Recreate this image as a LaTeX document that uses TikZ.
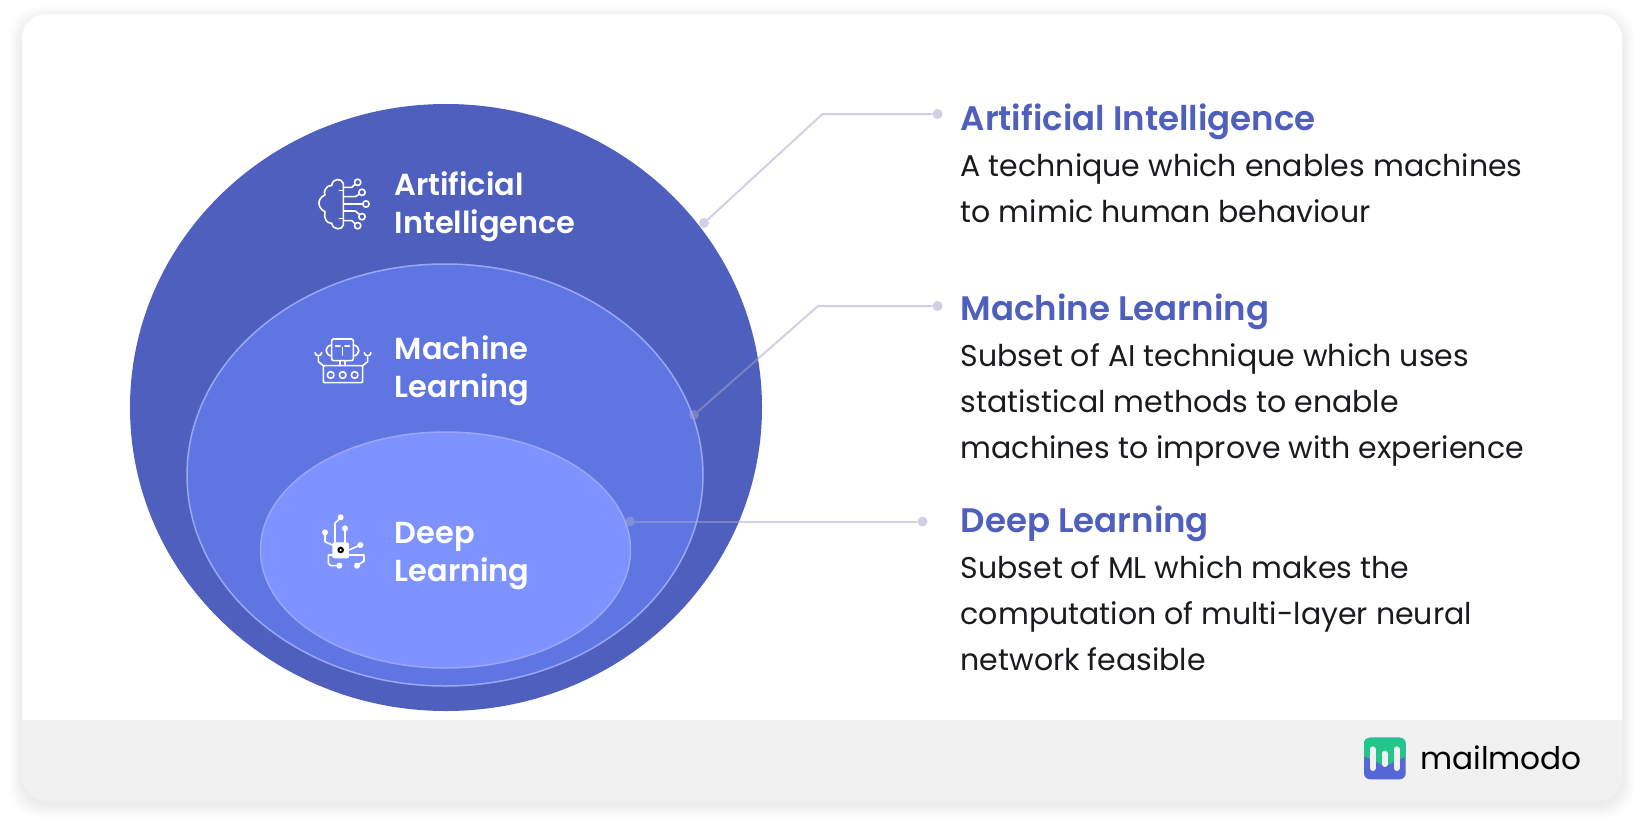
\documentclass[tikz,border=0pt]{standalone}
\usepackage{fontspec}
\setmainfont{Poppins}
\newfontfamily\semifont{Poppins SemiBold}
\definecolor{aiblue}{HTML}{4F5FBD}
\definecolor{mlblue}{HTML}{5F75E2}
\definecolor{dlblue}{HTML}{7E93FF}
\definecolor{ringblue}{HTML}{98A8F5}
\definecolor{linegray}{HTML}{A3A5CA}
\definecolor{bandgray}{HTML}{F1F1F2}
\definecolor{inkblack}{HTML}{1B1B1F}
\definecolor{logogreen}{HTML}{22C58C}
\definecolor{logoblue}{HTML}{5566D6}
\usetikzlibrary{shapes.geometric}
\tikzset{
  blob/.style={draw=none, ellipse, inner sep=0pt},
  circlelabel/.style={text=white, anchor=base west, align=left, font=\semifont\fontsize{30.4}{38}\selectfont, inner sep=0pt},
  headlabel/.style={text=aiblue, anchor=base west, inner sep=0pt, font=\semifont\fontsize{34}{40}\selectfont},
  bodylabel/.style={text=inkblack, anchor=base west, align=left, inner sep=0pt, font=\fontsize{30}{46}\selectfont},
  pindot/.style={circle, fill=linegray, fill opacity=0.5, inner sep=0pt, minimum size=10pt},
  leader/.style={draw=linegray, draw opacity=0.5, line width=2pt},
  iconline/.style={draw=white, line width=1.6pt, line cap=round, line join=round}
}
\begin{document}
\begin{tikzpicture}[x=1pt, y=-1pt]
  \useasboundingbox (0,0) rectangle (1644,830);
  \fill[white] (0,0) rectangle (1644,830);
  % soft shadow round the card
  \foreach \g in {12,10,...,2}
    \fill[black, opacity=0.010, rounded corners=30pt] (22-\g,19-\g) rectangle (1622+\g,805+\g);
  \fill[white, rounded corners=24pt] (22,14) rectangle (1622,800);
  \begin{scope}
    \clip[rounded corners=24pt] (22,14) rectangle (1622,800);
    \fill[bandgray] (22,720) rectangle (1622,800);
  \end{scope}

  % circles
  \node (aiblob) [blob, fill=aiblue, minimum width=632pt, minimum height=607pt] at (446,407.5) {};
  \node (mlblob) [blob, fill=mlblue, draw=ringblue, line width=1.5pt, minimum width=516pt, minimum height=422pt] at (445,475) {};
  \node (dlblob) [blob, fill=dlblue, draw=ringblue, line width=1.5pt, minimum width=370pt, minimum height=236pt] at (445.5,550) {};

  \node (aitext) [circlelabel] at (394.5,233) {Artificial\\Intelligence};
  \node (mltext) [circlelabel] at (394.5,397) {Machine\\Learning};
  \node (dltext) [circlelabel] at (394.5,581) {Deep\\Learning};

  % right side texts
  \node (aihead) [headlabel] at (960.5,130) {Artificial Intelligence};
  \node (aibody) [bodylabel] at (960.5,222) {A technique which enables machines\\to mimic human behaviour};
  \node (mlhead) [headlabel] at (960.5,320) {Machine Learning};
  \node (mlbody) [bodylabel] at (960.5,458) {Subset of AI technique which uses\\statistical methods to enable\\machines to improve with experience};
  \node (dlhead) [headlabel] at (960.5,532.5) {Deep Learning};
  \node (dlbody) [bodylabel] at (960.5,670) {Subset of ML which makes the\\computation of multi-layer neural\\network feasible};

  % leaders
  \node (aipin) [pindot] at (704,223) {};
  \node (aiend) [pindot] at (937.5,114) {};
  \coordinate (aibend) at (822.5,114);
  \draw[leader] (aipin) -- (aibend) -- (aiend);
  \node (mlpin) [pindot] at (694,415) {};
  \node (mlend) [pindot] at (937.5,306) {};
  \coordinate (mlbend) at (818,306);
  \draw[leader] (mlpin) -- (mlbend) -- (mlend);
  \node (dlpin) [pindot] at (630,521.5) {};
  \node (dlend) [pindot] at (922.5,521.5) {};
  \draw[leader] (dlpin) -- (dlend);

  % brain icon
  \begin{scope}[shift={(290,150)}, x=0.3333pt, y=-0.3333pt, iconline]
    \draw (160,100) .. controls (155,85) and (128,82) .. (125,107) .. controls (105,105) and (100,130) .. (105,135) .. controls (80,145) and (82,175) .. (105,185) .. controls (100,205) and (110,220) .. (125,220) .. controls (130,242) and (158,240) .. (160,225) -- cycle;
    \draw (148,122) -- (160,122) (148,205) -- (160,205);
    \draw (160,112) -- (186,112) -- (196,102) (160,140) -- (196,140) -- (208,132) (160,162) -- (218,162) (160,183) -- (196,183) -- (208,193) (160,212) -- (186,212) -- (196,222);
    \draw (203,97) circle (9.5) (216,127) circle (9.5) (228,162) circle (9.5) (216,200) circle (9.5) (203,227) circle (9.5);
  \end{scope}

  % robot icon
  \begin{scope}[shift={(290,320)}, x=0.3333pt, y=-0.3333pt, iconline]
    \draw[rounded corners=2pt] (125,57) rectangle (190,122);
    \draw (125,75) .. controls (103,78) and (103,105) .. (125,108) (190,75) .. controls (212,78) and (212,105) .. (190,108);
    \draw (137,78) -- (150,78) (165,78) -- (178,78) (157,82) -- (157,105);
    \draw (150,122) -- (150,137) (165,122) -- (165,137);
    \draw[rounded corners=1pt] (100,137) rectangle (218,188);
    \draw (122,165) circle (10) (158,165) circle (10) (194,165) circle (10);
    \draw (100,137) -- (85,125) -- (85,112) (75,98) .. controls (75,110) and (95,110) .. (95,98);
    \draw (218,137) -- (233,125) -- (233,112) (223,98) .. controls (223,110) and (243,110) .. (243,98);
  \end{scope}

  % deep learning icon
  \begin{scope}[shift={(300,500)}, x=0.3333pt, y=-0.3333pt, iconline]
    \fill[white, rounded corners=2pt] (97,127) rectangle (147,175);
    \fill[black] (122,150) circle (10);
    \fill[white] (122,150) circle (3.5);
    \draw (105,127) -- (105,70) -- (122,52) (135,85) -- (135,127) (75,97) -- (75,125) -- (97,135) (181,135) -- (147,150);
    \draw (97,165) -- (85,165) -- (85,190) -- (92,197) -- (118,197) (147,165) -- (192,165) -- (192,183) -- (171,197);
    \fill[white] (122,52) circle (9) (135,85) circle (9) (75,97) circle (9) (181,135) circle (9) (118,197) circle (9) (171,197) circle (9);
  \end{scope}

  % logo
  \begin{scope}[shift={(1360,730)}, x=0.3333pt, y=-0.3333pt]
    \fill[logoblue, rounded corners=6pt] (12,23) rectangle (137,148);
    \begin{scope}
      \clip[rounded corners=6pt] (12,23) rectangle (137,148);
      \fill[logogreen] (12,23) -- (137,23) -- (137,80) -- (110,92) -- (75,110) -- (40,90) -- (12,80) -- cycle;
    \end{scope}
    \draw[bandgray, line width=6pt, line cap=round] (38,58) -- (38,114) (74,71) -- (74,102) (110,58) -- (110,114);
  \end{scope}
  \node (brand) [text=black, anchor=base west, inner sep=0pt, font=\fontsize{31.2}{40}\selectfont] at (1420,769) {mailmodo};
\end{tikzpicture}
\end{document}
